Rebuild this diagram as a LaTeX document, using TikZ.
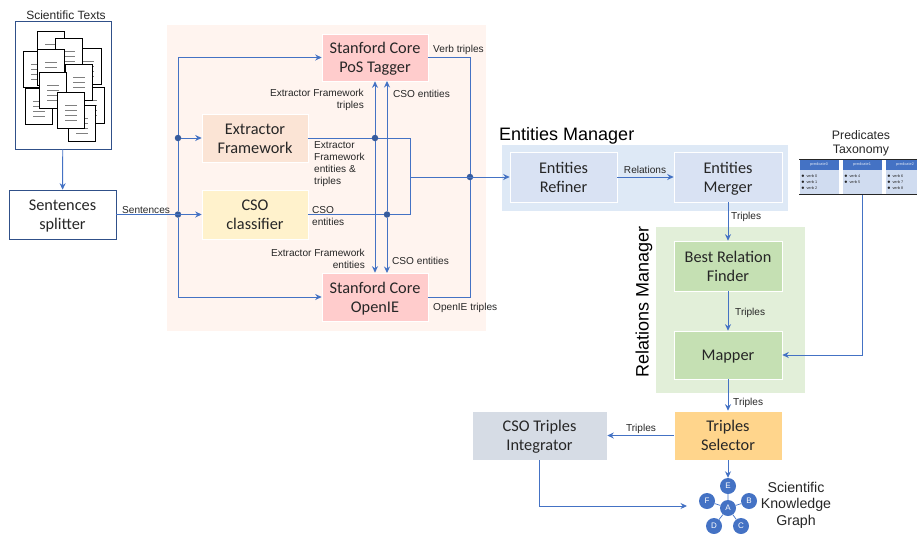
\documentclass[tikz,border=0pt]{standalone}
\usepackage{fontspec}
\setmainfont{Liberation Sans}
\newfontfamily\boxfont{Carlito}
\usetikzlibrary{arrows.meta}
\definecolor{flow}{HTML}{4472C4}
\definecolor{ink}{HTML}{262626}
\definecolor{panelpink}{HTML}{FFF4EF}
\definecolor{panelblue}{HTML}{DEE9F6}
\definecolor{panelgreen}{HTML}{E2EFD9}
\definecolor{boxred}{HTML}{FFCCCC}
\definecolor{boxpeach}{HTML}{FBE4D5}
\definecolor{boxyellow}{HTML}{FFF2CC}
\definecolor{boxblue}{HTML}{D9E2F3}
\definecolor{boxgreen}{HTML}{C5E0B3}
\definecolor{boxorange}{HTML}{FFD58C}
\definecolor{boxgray}{HTML}{D6DCE5}
\tikzset{
  box/.style={draw=white,line width=.6pt,inner sep=0pt,align=center,text=ink,font=\boxfont\fontsize{16.3}{19}\selectfont},
  twoline/.style={box,text height=30pt,text depth=0pt},
  conn/.style={draw=flow,line width=.95pt},
  flowarrow/.style={conn,-{Stealth[length=6.5pt,width=6pt]}},
  dot/.style={circle,fill=flow!80!black,inner sep=0pt,minimum size=6.5pt},
  lab/.style={font=\fontsize{10.1}{12}\selectfont,text=ink,inner sep=0pt,align=left},
  labr/.style={lab,align=right},
  graphnode/.style={circle,fill=flow,text=white,inner sep=0pt,minimum size=16pt,font=\fontsize{8}{9}\selectfont},
  head/.style={font=\fontsize{18}{20}\selectfont,inner sep=0pt},
  page/.style={draw=black,fill=white,line width=.7pt},
  cell/.style={font=\fontsize{3.8}{5.5}\selectfont,inner sep=0pt,align=left,text=ink}
}
\begin{document}
\begin{tikzpicture}[x=1pt,y=-1pt]
\useasboundingbox (0,0) rectangle (917,533);
% panels
\fill[panelpink] (167,25) rectangle (486,331);
\fill[panelblue] (502,145) rectangle (788,211);
\fill[panelgreen] (656,227) rectangle (805,393);
% documents
\node[draw=flow!70!black,line width=.7pt,minimum width=96,minimum height=128,inner sep=0pt] (texts) at (63,85) {};
\node[font=\fontsize{12}{12}\selectfont,inner sep=0pt,text=ink] (textstitle) at (66,15) {Scientific Texts};
\foreach \x/\y in {37/31,74/48,23/51,25/88,55/38,37/49,77/87,68/105,65/64,39/72,57/92}{
  \draw[page] (\x,\y) rectangle ++(27,36);
  \foreach \k in {13,18,23,28}{\draw[gray,line width=.4pt] (\x+8,\y+\k) -- ++(12,0);}
}
% boxes
\node[twoline,draw=flow!70!black,minimum width=107,minimum height=49] (splitter) at (62.5,214.5) {Sentences\\splitter};
\node[twoline,fill=boxred,minimum width=106,minimum height=47] (pos) at (375,57.5) {Stanford Core\\PoS Tagger};
\node[twoline,fill=boxpeach,minimum width=106,minimum height=48] (extractor) at (255,138) {Extractor\\Framework};
\node[twoline,fill=boxyellow,minimum width=106,minimum height=49] (cso) at (255,214.5) {CSO\\classifier};
\node[twoline,fill=boxred,minimum width=106,minimum height=48] (openie) at (375,297) {Stanford Core\\OpenIE};
\node[twoline,fill=boxblue,minimum width=107,minimum height=50] (refiner) at (563.5,177) {Entities\\Refiner};
\node[twoline,fill=boxblue,minimum width=108,minimum height=50] (merger) at (728,177) {Entities\\Merger};
\node[twoline,fill=boxgreen,minimum width=108,minimum height=50] (finder) at (728,266) {Best Relation\\Finder};
\node[box,fill=boxgreen,minimum width=108,minimum height=48,execute at begin node={\rule{0pt}{14pt}}] (mapper) at (728,355) {Mapper};
\node[twoline,fill=boxorange,minimum width=108,minimum height=49] (selector) at (728,435.5) {Triples\\Selector};
\node[twoline,fill=boxgray,minimum width=135,minimum height=49] (integrator) at (539.5,435.5) {CSO Triples\\Integrator};
\node[head,anchor=west] (emtitle) at (499,136) {Entities Manager};
\node[head,rotate=90] (rmtitle) at (644,302) {Relations Manager};
% predicates table
\draw[black!85,line width=.8pt] (799,159) -- (917,159);
\foreach \x/\h/\v in {800/predicate0/{verb 0,verb 1,verb 2},843/predicate1/{verb 4,verb 5},886/predicate2/{verb 6,verb 7,verb 8}}{
  \fill[flow!25!white] (\x,160) rectangle ++(38.5,34);
  \fill[flow] (\x,160) rectangle ++(38.5,10);
  \node[cell,text=white!85!flow] at (\x+19,165) {\h};
  \foreach \w [count=\i] in \v {\node[cell,anchor=west] at (\x+1,170+\i*6) {$\bullet$\, \w};}
}
\draw[black!85,line width=1.1pt] (799,194.5) -- (917,194.5);
\node[font=\fontsize{12.3}{14}\selectfont,inner sep=0pt,align=center,text=ink] (taxonomy) at (861,143) {Predicates\\Taxonomy};
% graph
\node[graphnode] (ga) at (728,508) {A};
\node[graphnode] (ge) at (728,486) {E};
\node[graphnode] (gb) at (749,501) {B};
\node[graphnode] (gf) at (707,501) {F};
\node[graphnode] (gd) at (714,526) {D};
\node[graphnode] (gc) at (741,526) {C};
\draw[flow,line width=.7pt] (ga)--(ge) (ga)--(gb) (ga)--(gf) (ga)--(gd) (ga)--(gc);
\node[font=\fontsize{14.2}{16.5}\selectfont,inner sep=0pt,align=center,text=ink] (kg) at (796,505) {Scientific\\Knowledge\\Graph};
% junctions
\node[dot] (dotl1) at (178,138) {};
\node[dot] (dotl2) at (178,214.5) {};
\node[dot] (dotef) at (375,138) {};
\node[dot] (dotcso) at (387,214.5) {};
\node[dot] (dotr) at (470,177) {};
\coordinate (brk) at (410,177);
\coordinate (stem) at (862,195);
\coordinate (csotop) at (387,81);
\coordinate (csobot) at (387,273);
\coordinate (gin) at (687,506);
\coordinate (intout) at (539,460);
% connectors
\draw[flowarrow] (texts) -- (splitter);
\draw[flowarrow] (splitter) -- (cso);
\draw[flowarrow] (dotl1) -- (extractor);
\draw[flowarrow] (dotl1) |- (pos);
\draw[flowarrow] (dotl2) |- (openie);
\draw[conn] (dotl1) -- (dotl2);
\draw[flowarrow] (dotef) -- (pos);
\draw[flowarrow] (dotef) -- (openie);
\draw[flowarrow] (dotcso) -- (csotop);
\draw[flowarrow] (dotcso) -- (csobot);
\draw[conn] (extractor) -- (dotef) -| (brk);
\draw[conn] (cso) -- (dotcso) -| (brk);
\draw[flowarrow] (brk) -- (refiner);
\draw[conn] (pos) -| (dotr);
\draw[conn] (openie) -| (dotr);
\draw[flowarrow] (refiner) -- (merger);
\draw[flowarrow] (merger) -- (finder);
\draw[flowarrow] (finder) -- (mapper);
\draw[flowarrow] (mapper) -- (selector);
\draw[flowarrow] (selector) -- (ge);
\draw[flowarrow] (selector) -- (integrator);
\draw[flowarrow] (stem) |- (mapper);
\draw[flowarrow] (intout) |- (gin);
% labels
\node[lab,anchor=west] (l1) at (122,210) {Sentences};
\node[lab,anchor=west] (l2) at (433,50) {Verb triples};
\node[labr,anchor=east] (l3) at (364,100) {Extractor Framework\\triples};
\node[lab,anchor=west] (l4) at (393,94) {CSO entities};
\node[lab,anchor=west] (l5) at (314,164) {Extractor\\Framework\\entities \&\\triples};
\node[lab,anchor=west] (l6) at (312,216) {CSO\\entities};
\node[labr,anchor=east] (l7) at (365,259) {Extractor Framework\\entities};
\node[lab,anchor=west] (l8) at (392,261) {CSO entities};
\node[lab,anchor=west] (l9) at (433,308) {OpenIE triples};
\node[lab] (l10) at (645,170) {Relations};
\node[lab,anchor=west] (l11) at (731,217) {Triples};
\node[lab,anchor=west] (l12) at (735,313) {Triples};
\node[lab,anchor=west] (l13) at (733,403) {Triples};
\node[lab] (l14) at (641,429) {Triples};
\end{tikzpicture}
\end{document}
